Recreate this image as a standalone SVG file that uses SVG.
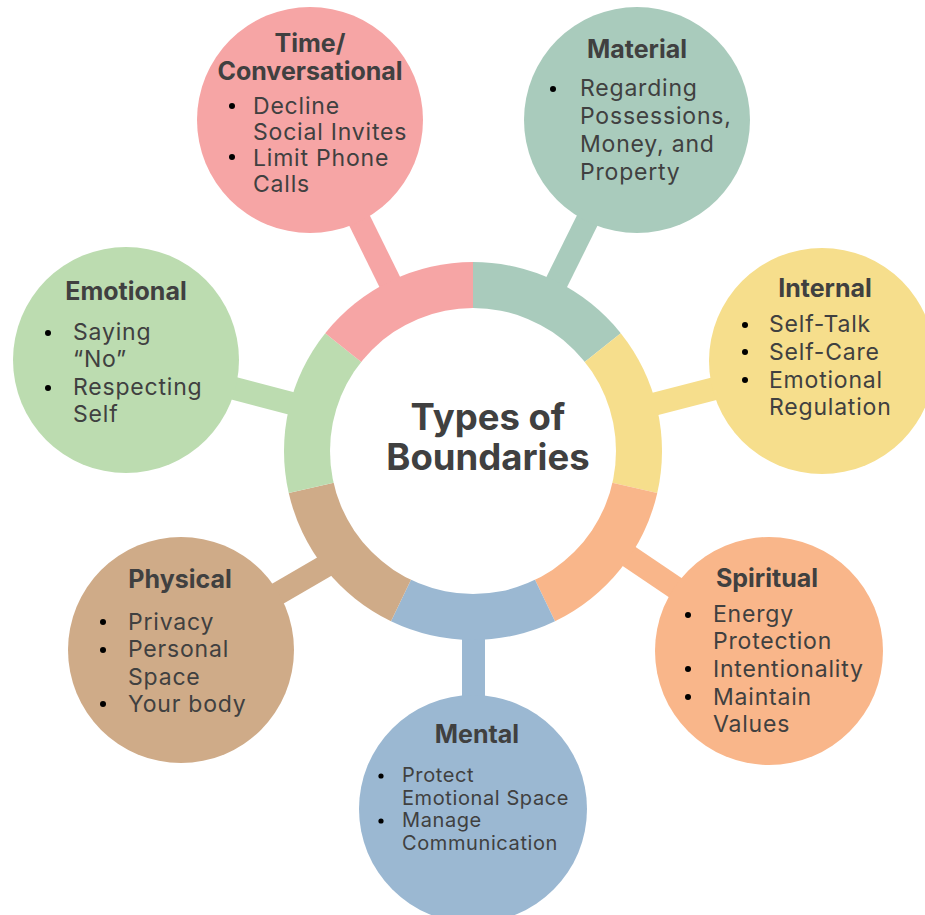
<svg xmlns="http://www.w3.org/2000/svg" width="925" height="915" viewBox="0 0 925 915">
<style>
text{font-family:Inter,"Liberation Sans",sans-serif;fill:#404040}
.t{font-weight:700;font-size:25px;text-anchor:middle}
.b{font-size:23px;letter-spacing:0.8px}
.s{font-size:20px;letter-spacing:0.6px}
.c{font-weight:700;font-size:36.5px;text-anchor:middle}
.con{stroke-width:23;stroke-linecap:butt;fill:none}
</style>
<rect width="925" height="915" fill="#fff"/>
<g id="connectors">
<line class="con" x1="310" y1="120" x2="473" y2="451" stroke="#F6A5A5"/>
<line class="con" x1="637" y1="120" x2="473" y2="451" stroke="#A9CBBC"/>
<line class="con" x1="126" y1="360" x2="473" y2="451" stroke="#BCDCB0"/>
<line class="con" x1="822" y1="361" x2="473" y2="451" stroke="#F6DE8C"/>
<line class="con" x1="181" y1="650" x2="420" y2="511" stroke="#CFAB88"/>
<line class="con" x1="769" y1="651" x2="473" y2="451" stroke="#F9B68A"/>
<line class="con" x1="473.5" y1="809" x2="473.5" y2="451" stroke="#9BB8D2"/>
</g>
<g id="ring">
<path d="M473 451 L473 262 A189 189 0 0 1 620.77 333.16 Z" fill="#A9CBBC"/>
<path d="M473 451 L620.77 333.16 A189 189 0 0 1 657.26 493.06 Z" fill="#F6DE8C"/>
<path d="M473 451 L657.26 493.06 A189 189 0 0 1 555 621.28 Z" fill="#F9B68A"/>
<path d="M473 451 L555 621.28 A189 189 0 0 1 391 621.28 Z" fill="#9BB8D2"/>
<path d="M473 451 L391 621.28 A189 189 0 0 1 288.74 493.06 Z" fill="#CFAB88"/>
<path d="M473 451 L288.74 493.06 A189 189 0 0 1 325.23 333.16 Z" fill="#BCDCB0"/>
<path d="M473 451 L325.23 333.16 A189 189 0 0 1 473 262 Z" fill="#F6A5A5"/>
</g>
<g id="center">
<circle cx="473" cy="451" r="143" fill="#fff"/>
<text class="c" x="488" y="430">Types of</text>
<text class="c" x="488" y="470">Boundaries</text>
</g>
<g id="time">
<circle cx="310" cy="120" r="113" fill="#F6A5A5"/>
<text class="t" x="310" y="52">Time/</text>
<text class="t" x="310" y="80">Conversational</text>
<g class="b"><circle cx="232" cy="106" r="3"/><circle cx="232" cy="157" r="3"/>
<text x="253" y="114">Decline</text><text x="253" y="140">Social Invites</text><text x="253" y="166">Limit Phone</text><text x="253" y="192">Calls</text></g>
</g>
<g id="material">
<circle cx="637" cy="120" r="113" fill="#A9CBBC"/>
<text class="t" x="637" y="58">Material</text>
<g class="b"><circle cx="553" cy="89" r="3"/>
<text x="580" y="96">Regarding</text><text x="580" y="124">Possessions,</text><text x="580" y="152">Money, and</text><text x="580" y="180">Property</text></g>
</g>
<g id="emotional">
<circle cx="126" cy="360" r="113" fill="#BCDCB0"/>
<text class="t" x="126" y="300">Emotional</text>
<g class="b"><circle cx="48" cy="333" r="3"/><circle cx="48" cy="388" r="3"/>
<text x="73" y="340">Saying</text><text x="73" y="367">“No”</text><text x="73" y="395">Respecting</text><text x="73" y="422">Self</text></g>
</g>
<g id="internal">
<circle cx="822" cy="361" r="113" fill="#F6DE8C"/>
<text class="t" x="825" y="297">Internal</text>
<g class="b"><circle cx="745" cy="325" r="3"/><circle cx="745" cy="352" r="3"/><circle cx="745" cy="380" r="3"/>
<text x="769" y="332">Self-Talk</text><text x="769" y="360">Self-Care</text><text x="769" y="388">Emotional</text><text x="769" y="415">Regulation</text></g>
</g>
<g id="physical">
<circle cx="181" cy="650" r="113" fill="#CFAB88"/>
<text class="t" x="180" y="588">Physical</text>
<g class="b"><circle cx="103" cy="622" r="3"/><circle cx="103" cy="650" r="3"/><circle cx="103" cy="704" r="3"/>
<text x="128" y="630">Privacy</text><text x="128" y="657">Personal</text><text x="128" y="685">Space</text><text x="128" y="712">Your body</text></g>
</g>
<g id="spiritual">
<circle cx="769" cy="651" r="114" fill="#F9B68A"/>
<text class="t" x="767" y="587">Spiritual</text>
<g class="b"><circle cx="688" cy="615" r="3"/><circle cx="688" cy="669" r="3"/><circle cx="688" cy="697" r="3"/>
<text x="713" y="622">Energy</text><text x="713" y="649">Protection</text><text x="713" y="677">Intentionality</text><text x="713" y="705">Maintain</text><text x="713" y="732">Values</text></g>
</g>
<g id="mental">
<circle cx="473" cy="809" r="114" fill="#9BB8D2"/>
<text class="t" x="477" y="743">Mental</text>
<g class="s"><circle cx="381" cy="776" r="2.6"/><circle cx="381" cy="821" r="2.6"/>
<text x="402" y="782">Protect</text><text x="402" y="805">Emotional Space</text><text x="402" y="827">Manage</text><text x="402" y="850">Communication</text></g>
</g>
</svg>
